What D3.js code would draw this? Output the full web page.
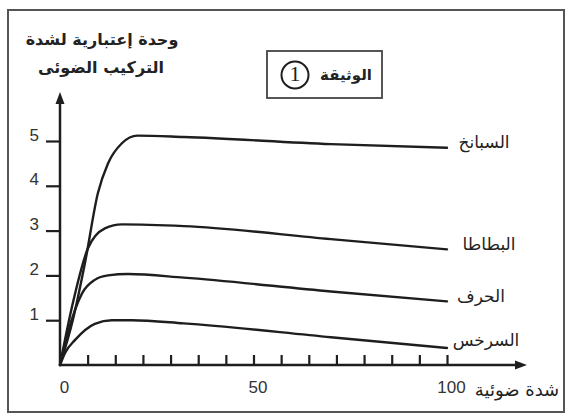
<!DOCTYPE html>
<html><head><meta charset="utf-8">
<script src="https://cdn.jsdelivr.net/npm/d3@7"></script>
<style>body{margin:0;background:#fff} svg{display:block}</style>
</head><body><svg id="c" width="571" height="415"></svg>
<script>
// ---- data ----
const xTickValues = d3.range(0, 15).map(k => k * 100 / 14);
const xTickLabels = ["0", "50", "100"];
const yTickValues = [1, 2, 3, 4, 5];
const seriesNames = ["السبانخ", "البطاطا", "الحرف", "السرخس"];
const spinachX = [0, 3.3, 6.5, 9.8, 12.4, 16, 20, 32, 70, 100];
const spinachY = [0, 1.0, 2.3, 3.84, 4.5, 4.95, 5.12, 5.09, 4.93, 4.85];
const potatoX = [0, 3.1, 7.2, 11.6, 16, 32, 70, 100];
const potatoY = [0, 1.3, 2.6, 3.05, 3.14, 3.1, 2.81, 2.58];
const hirfX = [0, 2, 5.7, 9, 12.4, 17.6, 32, 70, 100];
const hirfY = [0, 0.71, 1.6, 1.9, 2.0, 2.03, 1.95, 1.64, 1.42];
const fernX = [0, 1.3, 3.9, 9, 13.4, 18.6, 32, 70, 100];
const fernY = [0, 0.27, 0.56, 0.92, 1.0, 1.0, 0.93, 0.62, 0.38];
const yTitle = ["وحدة إعتبارية لشدة", "التركيب الضوئى"];
const xTitle = "شدة ضوئية";
const docTitle = "الوثيقة";
const docNumber = "1";

// ---- drawing ----
const svg = d3.select("#c");
const ink = "#1e1e1e";
const arabicFont = "'DejaVu Sans', sans-serif";
const numFont = "'Liberation Sans', Arial, sans-serif";

const x = d3.scaleLinear().domain([0, 100]).range([60, 447]);
const y = d3.scaleLinear().domain([0, 5]).range([365, 141]);

// outer frame
svg.append("rect").attr("x", 8).attr("y", 10).attr("width", 556).attr("height", 402)
  .attr("fill", "none").attr("stroke", "#555").attr("stroke-width", 2);

// x axis ticks (pointing up) and labels
const xAxis = d3.axisBottom(x).tickValues(xTickValues).tickSize(-10).tickPadding(16)
  .tickFormat(d => {
    const i = [0, 50, 100].findIndex(v => Math.abs(v - d) < 0.01);
    return i >= 0 ? xTickLabels[i] : "";
  });
const gx = svg.append("g").attr("transform", `translate(0,${y(0)})`).call(xAxis);
gx.select(".domain").remove();
gx.selectAll(".tick line").attr("stroke", ink).attr("stroke-width", 2.2);
gx.selectAll(".tick text").attr("fill", "#333").attr("font-size", 17)
  .attr("font-family", numFont).attr("dx", 4);

// y axis ticks
const yAxis = d3.axisLeft(y).tickValues(yTickValues).tickSize(14).tickPadding(7)
  .tickFormat(d3.format("d"));
const gy = svg.append("g").attr("transform", `translate(${x(0)},0)`).call(yAxis);
gy.select(".domain").remove();
gy.selectAll(".tick line").attr("stroke", ink).attr("stroke-width", 2.2);
gy.selectAll(".tick text").attr("fill", "#333").attr("font-size", 17)
  .attr("font-family", numFont).attr("dy", "-0.05em");

// axis lines with arrows
const x0 = x(0), y0 = y(0);
svg.append("line").attr("x1", x0).attr("y1", y0).attr("x2", 520).attr("y2", y0)
  .attr("stroke", ink).attr("stroke-width", 2.5);
svg.append("path").attr("d", `M527,${y0} L515,${y0 - 4.5} L515,${y0 + 4.5} Z`).attr("fill", ink);
svg.append("line").attr("x1", x0).attr("y1", y0).attr("x2", x0).attr("y2", 100)
  .attr("stroke", ink).attr("stroke-width", 2.5);
svg.append("path").attr("d", `M${x0},92 L${x0 - 4.5},104 L${x0 + 4.5},104 Z`).attr("fill", ink);

// curves
const series = [
  { name: seriesNames[0], xs: spinachX, ys: spinachY, dx: 37, dy: -5 },
  { name: seriesNames[1], xs: potatoX, ys: potatoY, dx: 42, dy: -4 },
  { name: seriesNames[2], xs: hirfX, ys: hirfY, dx: 34, dy: -4 },
  { name: seriesNames[3], xs: fernX, ys: fernY, dx: 39, dy: -7 }
];
const line = d3.line().x(d => x(d[0])).y(d => y(d[1])).curve(d3.curveMonotoneX);
series.forEach(s => {
  const pts = s.xs.map((v, i) => [v, s.ys[i]]);
  svg.append("path").attr("d", line(pts)).attr("fill", "none")
    .attr("stroke", ink).attr("stroke-width", 2.4).attr("stroke-linecap", "round");
  const last = pts[pts.length - 1];
  svg.append("text").attr("x", x(last[0]) + s.dx).attr("y", y(last[1]) + s.dy)
    .attr("text-anchor", "middle").attr("dominant-baseline", "middle")
    .attr("font-family", arabicFont).attr("font-size", 17).attr("fill", "#222")
    .text(s.name);
});

// y title
svg.append("text").attr("x", 102).attr("y", 40).attr("text-anchor", "middle")
  .attr("dominant-baseline", "middle").attr("font-family", arabicFont)
  .attr("font-weight", "bold").attr("font-size", 16).attr("fill", "#222").text(yTitle[0]);
svg.append("text").attr("x", 101).attr("y", 68).attr("text-anchor", "middle")
  .attr("dominant-baseline", "middle").attr("font-family", arabicFont)
  .attr("font-weight", "bold").attr("font-size", 16).attr("fill", "#222").text(yTitle[1]);

// x title
svg.append("text").attr("x", 517).attr("y", 391).attr("text-anchor", "middle")
  .attr("dominant-baseline", "middle").attr("font-family", arabicFont)
  .attr("font-size", 18).attr("fill", "#222").text(xTitle);

// document box
svg.append("rect").attr("x", 267).attr("y", 51).attr("width", 115).attr("height", 47)
  .attr("fill", "none").attr("stroke", "#444").attr("stroke-width", 1.8);
svg.append("circle").attr("cx", 295).attr("cy", 75).attr("r", 13.5)
  .attr("fill", "none").attr("stroke", ink).attr("stroke-width", 2);
svg.append("text").attr("x", 295).attr("y", 76).attr("text-anchor", "middle")
  .attr("dominant-baseline", "middle").attr("font-family", "'Liberation Serif', serif")
  .attr("font-size", 22).attr("fill", ink).text(docNumber);
svg.append("text").attr("x", 346).attr("y", 75).attr("text-anchor", "middle")
  .attr("dominant-baseline", "middle").attr("font-family", arabicFont)
  .attr("font-weight", "bold").attr("font-size", 15).attr("fill", "#222").text(docTitle);
</script></body></html>
